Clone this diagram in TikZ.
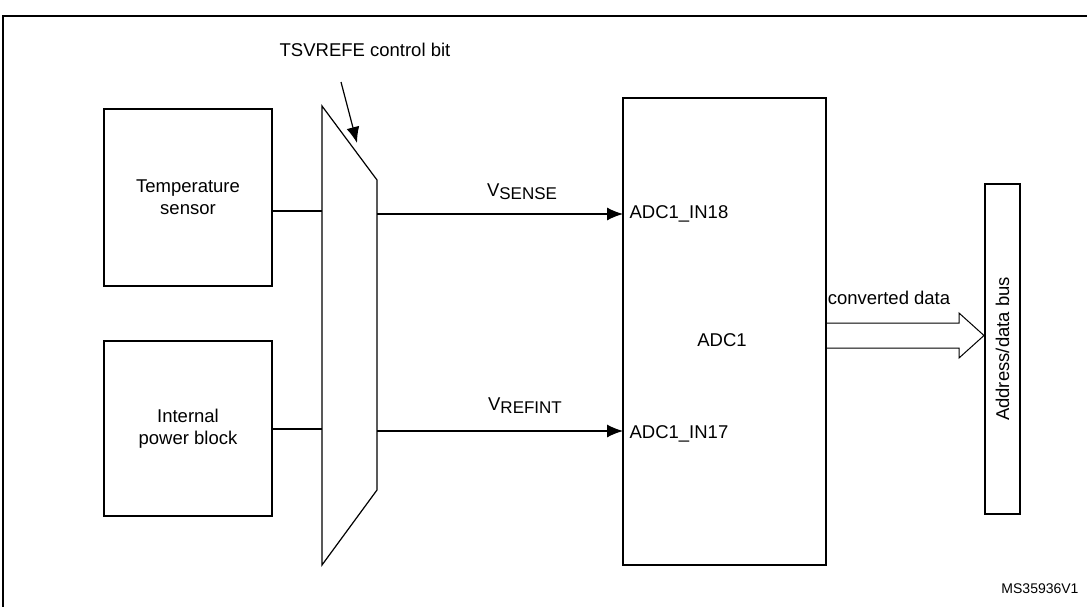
\documentclass[tikz,border=0pt]{standalone}
\usepackage{fontspec}
\setmainfont{Liberation Sans}
\begin{document}
\begin{tikzpicture}[x=1pt,y=-1pt,line width=1.2pt,
  box/.style={draw,minimum width=168pt,minimum height=177pt,align=center,font=\fontsize{18.5}{22}\selectfont,inner sep=0},
  lbl/.style={font=\fontsize{18.5}{22}\selectfont,inner sep=1pt},
  tri/.style={-{Latex[length=16pt,width=13pt]}}]
\usetikzlibrary{arrows.meta}
\useasboundingbox (0,0) rectangle (1087,607);
\draw (3,607) -- (3,16) -- (1087,16);
\node[box] (ts) at (188,197.5) {Temperature\\sensor};
\node[box,minimum height=175pt] (pb) at (188,428.5) {Internal\\power block};
\draw (322,106) coordinate (m1) -- (377,180) coordinate (m2) -- (377,490) coordinate (m3) -- (322,565) coordinate (m4) -- cycle;
\node[draw,minimum width=203pt,minimum height=467pt,inner sep=0] (adc) at (724.5,331.5) {};
\node[lbl] at (722,340) {ADC1};
\node[draw,minimum width=35pt,minimum height=330pt,inner sep=0] (bus) at (1002.5,349) {};
\node[lbl,rotate=90] at (bus.center) {Address/data bus};
\node[lbl] (ctl) at (365,50) {TSVREFE control bit};
\coordinate (ca) at (341,82);
\coordinate (cb) at (357,143);
\draw[tri] (ca) -- (cb);
\draw (ts.east |- 0,211) -- (322,211);
\draw (pb.east |- 0,429) -- (322,429);
\draw[tri] (377,214) coordinate (o1) -- (623,214) coordinate (i1);
\draw[tri] (377,431) coordinate (o2) -- (623,431) coordinate (i2);
\node[lbl,anchor=west] at (628,214) {ADC1\_IN18};
\node[lbl,anchor=west] at (628,434) {ADC1\_IN17};
\node[lbl] at (522,192) {V\raisebox{-0.3ex}{\fontsize{17}{20}\selectfont SENSE}};
\node[lbl] at (525,406) {V\raisebox{-0.3ex}{\fontsize{17}{20}\selectfont REFINT}};
\draw[line width=1pt,line join=miter] (826,323) -- (959,323) -- (959,313) -- (984,335.5) -- (959,358) -- (959,348) -- (826,348);
\node[lbl] at (889,298) {converted data};
\node[font=\fontsize{14}{16}\selectfont] at (1040,589) {MS35936V1};
\end{tikzpicture}
\end{document}
